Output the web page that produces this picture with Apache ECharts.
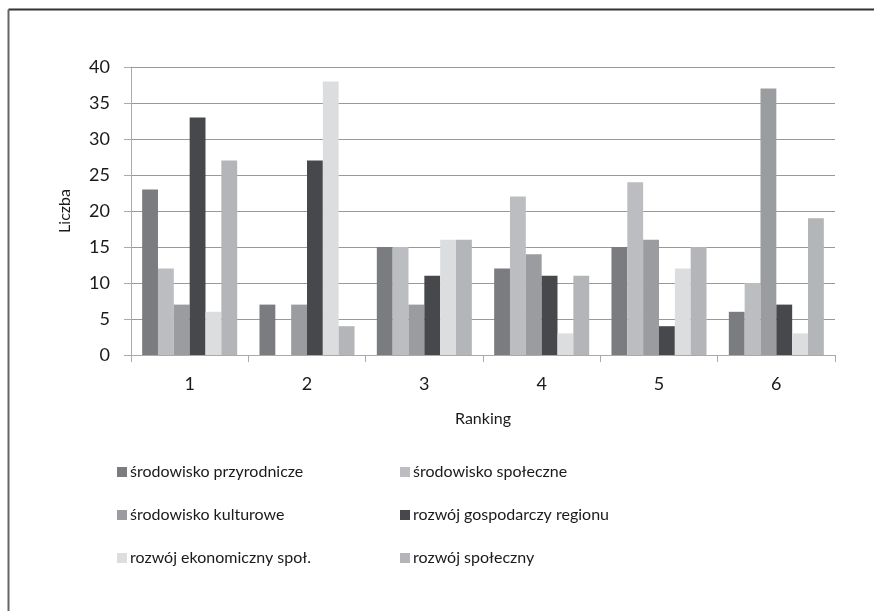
<!DOCTYPE html>
<html><head><meta charset="utf-8">
<script src="https://cdn.jsdelivr.net/npm/echarts@6/dist/echarts.min.js"></script>
<style>html,body{margin:0;padding:0;background:#fff}#c{width:874px;height:611px}</style>
</head><body><div id="c"></div>
<script>
const categories = ['1','2','3','4','5','6'];
const seriesNames = ['środowisko przyrodnicze','środowisko społeczne','środowisko kulturowe','rozwój gospodarczy regionu','rozwój ekonomiczny społ.','rozwój społeczny'];
const srodowiskoPrzyrodnicze = [23, 7, 15, 12, 15, 6];
const srodowiskoSpoleczne = [12, 0, 15, 22, 24, 10];
const srodowiskoKulturowe = [7, 7, 7, 14, 16, 37];
const rozwojGospodarczy = [33, 27, 11, 11, 4, 7];
const rozwojEkonomiczny = [6, 38, 16, 3, 12, 3];
const rozwojSpoleczny = [27, 4, 16, 11, 15, 19];
const yTicks = [0,5,10,15,20,25,30,35,40];

const values = [srodowiskoPrzyrodnicze, srodowiskoSpoleczne, srodowiskoKulturowe, rozwojGospodarczy, rozwojEkonomiczny, rozwojSpoleczny];
const colors = ['#7b7c80','#bcbdc0','#9b9c9f','#47484b','#dcdddf','#b4b5b8'];
const FONT = 'Lato';
const chart = echarts.init(document.getElementById('c'));
const legendCommon = {
  orient: 'vertical', itemWidth: 10, itemHeight: 10, itemGap: 23, icon: 'rect',
  textStyle: {fontFamily: FONT, fontSize: 16, color: '#1a1a1a', lineHeight: 20, padding: [0,0,0,-2]},
  selectedMode: false
};
chart.setOption({
  animation: false,
  textStyle: {fontFamily: FONT},
  graphic: [
    {type: 'line', shape: {x1: 8.5, y1: 9.5, x2: 874, y2: 9.5}, style: {stroke: '#333', lineWidth: 2}},
    {type: 'line', shape: {x1: 8.5, y1: 9.5, x2: 8.5, y2: 611}, style: {stroke: '#666', lineWidth: 2}}
  ],
  grid: {left: 131, right: 39, top: 67, bottom: 256, containLabel: false},
  legend: [
    Object.assign({}, legendCommon, {data: [seriesNames[0], seriesNames[2], seriesNames[4]], left: 112, top: 457}),
    Object.assign({}, legendCommon, {data: [seriesNames[1], seriesNames[3], seriesNames[5]], left: 395, top: 457})
  ],
  xAxis: {
    type: 'category', data: categories,
    name: 'Ranking', nameLocation: 'middle', nameGap: 56,
    nameTextStyle: {fontFamily: FONT, fontSize: 16, color: '#1a1a1a'},
    axisLine: {lineStyle: {color: '#aaa'}},
    axisTick: {show: true, length: 7, lineStyle: {color: '#aaa'}},
    axisLabel: {fontFamily: FONT, fontSize: 18, color: '#1a1a1a', margin: 20}
  },
  yAxis: {
    type: 'value', min: 0, max: 40, interval: 5,
    name: 'Liczba', nameLocation: 'middle', nameGap: 58, nameRotate: 90,
    nameTextStyle: {fontFamily: FONT, fontSize: 16, color: '#1a1a1a'},
    axisLine: {show: true, lineStyle: {color: '#aaa'}},
    axisTick: {show: true, length: 7, lineStyle: {color: '#aaa'}},
    axisLabel: {fontFamily: FONT, fontSize: 18, color: '#1a1a1a', margin: 21,
      formatter: v => yTicks.includes(v) ? String(v) : ''},
    splitLine: {lineStyle: {color: '#999', width: 1}}
  },
  series: values.map((d, i) => ({
    name: seriesNames[i], type: 'bar', data: d,
    barGap: '0%', barCategoryGap: '19%',
    itemStyle: {color: colors[i]}
  }))
});
</script></body></html>
